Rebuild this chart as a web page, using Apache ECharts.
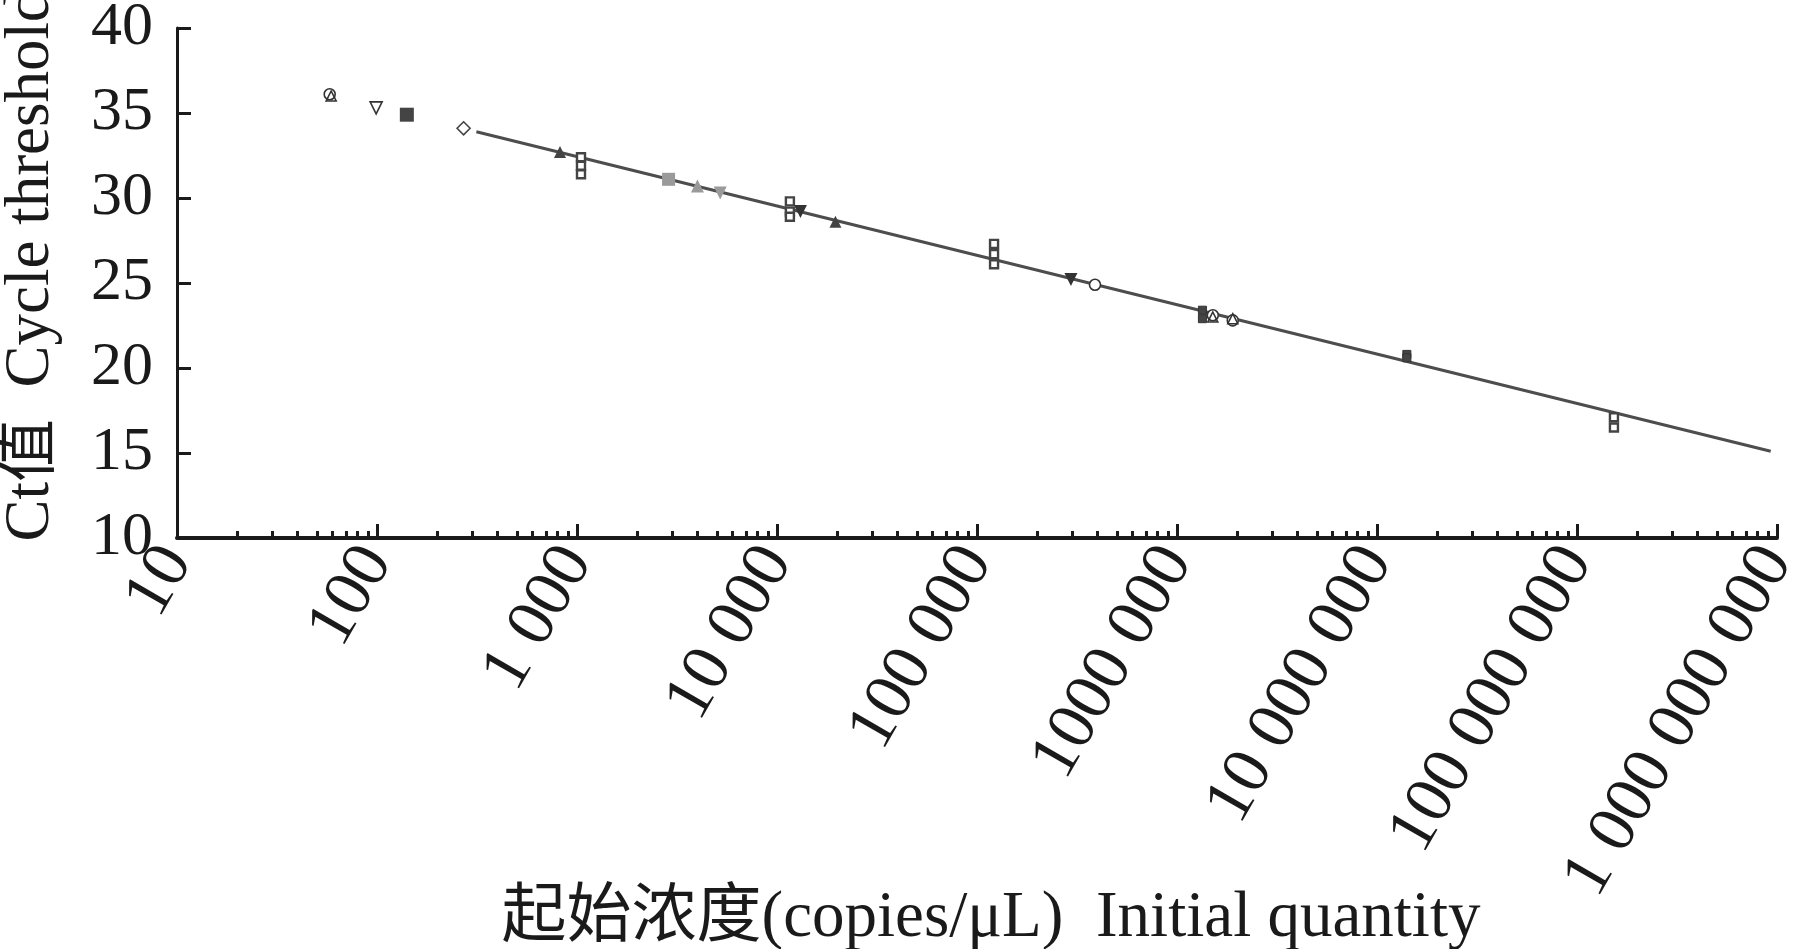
<!DOCTYPE html>
<html>
<head>
<meta charset="utf-8">
<script src="https://cdn.jsdelivr.net/npm/echarts@6/dist/echarts.min.js"></script>
<style>
html,body{margin:0;padding:0;background:#fff;}
#chart{width:1813px;height:949px;}
</style>
</head>
<body>
<div id="chart"></div>
<script>
// ---- data (x = initial quantity copies/uL, y = Ct) ----
var xTickLabels = ['10','100','1 000','10 000','100 000','1000 000','10 000 000','100 000 000','1 000 000 000'];
var minorTickValues = [];
[10,100,1000,1e4,1e5,1e6,1e7,1e8].forEach(function(d){ for (var k=2;k<=9;k++) minorTickValues.push(d*k); });

var openCircle      = [[58, 36.1], [389000, 24.9], [1510000, 23.1], [1900000, 22.8]];
var openTriangle    = [[59, 36.0], [1510000, 23.0], [1900000, 22.9]];
var openInvTriangle = [[99, 35.3]];
var darkSquareBig   = [[141, 34.9]];
var darkSquareSmall = [[1340000, 23.4], [1340000, 22.9], [14100000, 20.8], [14100000, 20.6]];
var openDiamond     = [[271, 34.1]];
var darkTriangle    = [[822, 32.7], [19600, 28.6]];
var openSquare      = [[1047, 32.4], [1047, 31.9], [1047, 31.4],
                       [11600, 29.8], [11600, 29.2], [11600, 28.9],
                       [121700, 27.3], [121700, 26.7], [121700, 26.1],
                       [153000000, 17.1], [153000000, 16.5]];
var graySquare      = [[2870, 31.1]];
var grayTriangle    = [[4000, 30.7]];
var grayInvTriangle = [[5200, 30.3]];
var darkInvTriangle = [[13100, 29.2], [295000, 25.2]];
var fitLine         = [[314, 33.9], [930000000, 15.1]];

var FONT = "'Liberation Serif','Noto Sans CJK SC',serif";
var INK = '#1a1a1a';

function scatter(name, data, symbol, size, fill, stroke, rot, bw){
  return {
    name: name, type: 'scatter', data: data, symbol: symbol, symbolSize: size,
    symbolRotate: rot || 0, z: 5,
    itemStyle: { color: fill, borderColor: stroke, borderWidth: bw == null ? 1.6 : bw, opacity: 1 }
  };
}

var chart = echarts.init(document.getElementById('chart'), null, {renderer:'canvas'});
chart.setOption({
  backgroundColor: '#fff',
  animation: false,
  grid: { left: 177, right: 36, top: 28, bottom: 411, containLabel: false, outerBoundsMode: 'none' },
  xAxis: [{
    type: 'log', logBase: 10, min: 10, max: 1e9,
    name: '起始浓度(copies/μL)  Initial quantity',
    nameLocation: 'middle', nameGap: 348, nameMoveOverlap: false,
    nameTextStyle: { fontFamily: FONT, fontSize: 65, color: INK, padding: [0, 0, 0, 28] },
    axisLine: { show: true, lineStyle: { color: INK, width: 4 } },
    axisTick: { show: true, inside: true, length: 14, lineStyle: { color: INK, width: 3 } },
    axisLabel: {
      show: true, rotate: 60, margin: 14,
      fontFamily: FONT, fontSize: 68, color: INK,
      formatter: function(v){ var i = Math.round(Math.log10(v)) - 1; return xTickLabels[i] || ''; }
    },
    splitLine: { show: false }
  },{
    type: 'log', logBase: 10, min: 10, max: 1e9, position: 'bottom',
    axisLine: { show: false },
    axisTick: { show: true, inside: true, length: 7, customValues: minorTickValues, lineStyle: { color: INK, width: 3 } },
    axisLabel: { show: false },
    splitLine: { show: false }
  }],
  yAxis: {
    type: 'value', min: 10, max: 40, interval: 5,
    name: 'Ct值  Cycle threshold',
    nameLocation: 'middle', nameRotate: 90, nameGap: 114, nameMoveOverlap: false,
    nameTextStyle: { fontFamily: FONT, fontSize: 63, color: INK, padding: [0, 0, 0, 34] },
    axisLine: { show: true, lineStyle: { color: INK, width: 3 } },
    axisTick: { show: true, inside: true, length: 14, lineStyle: { color: INK, width: 3 } },
    axisLabel: { fontFamily: FONT, fontSize: 62, color: INK, margin: 24 },
    splitLine: { show: false }
  },
  series: [
    { name: 'fit', type: 'line', data: fitLine, symbol: 'none', z: 3,
      lineStyle: { color: '#4d4d4d', width: 3 } },
    scatter('openCircle', openCircle, 'circle', 11, '#fff', '#333'),
    scatter('openTriangle', openTriangle, 'triangle', 10, 'rgba(255,255,255,0)', '#333'),
    scatter('openInvTriangle', openInvTriangle, 'triangle', 12, '#fff', '#333', 180),
    scatter('darkSquareBig', darkSquareBig, 'rect', 14, '#444', '#444', 0, 0),
    scatter('darkSquareSmall', darkSquareSmall, 'rect', 8, '#444', '#333', 0, 1),
    scatter('openDiamond', openDiamond, 'diamond', 13, '#fff', '#444'),
    scatter('darkTriangle', darkTriangle, 'triangle', 12, '#444', '#444', 0, 0),
    scatter('openSquare', openSquare, 'rect', 8, '#fff', '#444', 0, 2.4),
    scatter('graySquare', graySquare, 'rect', 13, '#9a9a9a', '#9a9a9a', 0, 0),
    scatter('grayTriangle', grayTriangle, 'triangle', 13, '#9a9a9a', '#9a9a9a', 0, 0),
    scatter('grayInvTriangle', grayInvTriangle, 'triangle', 13, '#9a9a9a', '#9a9a9a', 180, 0),
    scatter('darkInvTriangle', darkInvTriangle, 'triangle', 13, '#333', '#333', 180, 0)
  ]
});
</script>
</body>
</html>
